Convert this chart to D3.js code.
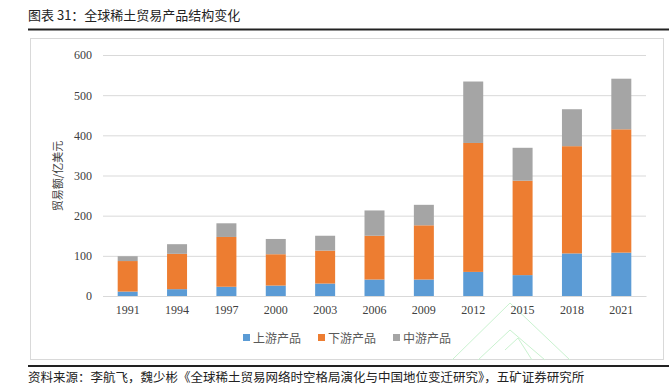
<!DOCTYPE html>
<head>
    <meta charset="utf-8">
    <title>全球稀土贸易产品结构变化</title>
    <style>
        body { margin: 0; background: #fff; }
        svg { display: block; }
    </style>
</head>
<body>

<svg width="669" height="387"></svg>

<script src="https://d3js.org/d3.v7.min.js"></script>

<script>
    // data (亿美元)
    var years = ["1991", "1994", "1997", "2000", "2003", "2006", "2009", "2012", "2015", "2018", "2021"];
    var upstream   = [11, 17, 23, 26, 31, 41, 41, 60, 52, 106, 108];
    var downstream = [76, 88, 124, 78, 82, 109, 135, 321, 235, 267, 307];
    var midstream  = [12, 24, 34, 38, 37, 63, 51, 153, 82, 92, 126];
    var seriesNames = ["上游产品", "下游产品", "中游产品"];
    var seriesColors = ["#5b9bd5", "#ed7d31", "#a5a5a5"];
    var yTicks = [0, 100, 200, 300, 400, 500, 600];

    var svg = d3.select("svg"),
        width = +svg.attr("width"),
        height = +svg.attr("height");

    var cjk = "'Noto Sans CJK SC', 'Noto Sans', sans-serif",
        serif = "'Liberation Serif', 'DejaVu Serif', serif";

    // page frame: title, rules, chart box
    svg.append("text")
        .attr("x", 28)
        .attr("y", 20)
        .attr("font-family", cjk)
        .attr("font-size", 13)
        .attr("fill", "#222")
        .text("图表 31：全球稀土贸易产品结构变化");

    svg.append("line")
        .attr("x1", 28).attr("x2", width)
        .attr("y1", 29.5).attr("y2", 29.5)
        .attr("stroke", "#222").attr("stroke-width", 2);

    svg.append("rect")
        .attr("x", 30.5).attr("y", 38.5)
        .attr("width", 633).attr("height", 321)
        .attr("fill", "none")
        .attr("stroke", "#d9d9d9");

    // faint watermark
    var wm = svg.append("g")
        .attr("fill", "none")
        .attr("stroke", "#c9f2cf")
        .attr("stroke-width", 1);
    wm.append("path").attr("d", "M452,360 L510,303 L570,360");
    wm.append("path").attr("d", "M478,360 L510,330 L545,360");
    wm.append("path").attr("d", "M505,350 L518,338 L532,360");

    svg.append("line")
        .attr("x1", 28).attr("x2", width)
        .attr("y1", 366).attr("y2", 366)
        .attr("stroke", "#222").attr("stroke-width", 2);

    svg.append("text")
        .attr("x", 28)
        .attr("y", 382)
        .attr("font-family", cjk)
        .attr("font-size", 12.5)
        .attr("fill", "#222")
        .text("资料来源：李航飞，魏少彬《全球稀土贸易网络时空格局演化与中国地位变迁研究》，五矿证券研究所");

    // scales
    var x = d3.scaleBand()
        .domain(years)
        .range([103, 646])
        .paddingInner(0.595)
        .paddingOuter(0.2975);

    var y = d3.scaleLinear()
        .domain([0, 600])
        .range([296, 55]);

    // gridlines + y labels
    var yAxis = svg.append("g")
        .attr("transform", "translate(103,0)")
        .call(d3.axisLeft(y)
            .tickValues(yTicks)
            .tickSize(-(646 - 103))
            .tickPadding(11));
    yAxis.select(".domain").remove();
    yAxis.selectAll(".tick line").attr("stroke", "#d9d9d9");
    yAxis.selectAll("text")
        .attr("font-family", serif)
        .attr("font-size", 12)
        .attr("fill", "#404040");

    // stacked bars
    var table = years.map(function(yr, i) {
        return { year: yr, up: upstream[i], down: downstream[i], mid: midstream[i] };
    });
    var stack = d3.stack().keys(["up", "down", "mid"]);
    var layers = stack(table);

    svg.append("g")
        .selectAll("g")
        .data(layers)
        .enter().append("g")
            .attr("fill", function(d, i) { return seriesColors[i]; })
        .selectAll("rect")
        .data(function(d) { return d; })
        .enter().append("rect")
            .attr("x", function(d) { return x(d.data.year); })
            .attr("y", function(d) { return y(d[1]); })
            .attr("width", x.bandwidth())
            .attr("height", function(d) { return y(d[0]) - y(d[1]); });

    // x axis
    var xAxis = svg.append("g")
        .attr("transform", "translate(0,296)")
        .call(d3.axisBottom(x).tickSize(0).tickPadding(9));
    xAxis.select(".domain").attr("stroke", "#d9d9d9");
    xAxis.selectAll("text")
        .attr("font-family", serif)
        .attr("font-size", 12)
        .attr("fill", "#404040");

    // y axis title
    svg.append("text")
        .attr("transform", "translate(62,176) rotate(-90)")
        .attr("text-anchor", "middle")
        .attr("font-family", cjk)
        .attr("font-size", 11)
        .attr("fill", "#404040")
        .text("贸易额/亿美元");

    // legend
    var legendX = [243, 318, 393];
    var legend = svg.append("g")
        .selectAll("g")
        .data(seriesNames)
        .enter().append("g")
            .attr("transform", function(d, i) { return "translate(" + legendX[i] + ",338)"; });
    legend.append("rect")
        .attr("x", 0).attr("y", -4)
        .attr("width", 7).attr("height", 7)
        .attr("fill", function(d, i) { return seriesColors[i]; });
    legend.append("text")
        .attr("x", 10)
        .attr("y", 4.5)
        .attr("font-family", cjk)
        .attr("font-size", 12)
        .attr("fill", "#595959")
        .text(function(d) { return d; });
</script>

</body>
